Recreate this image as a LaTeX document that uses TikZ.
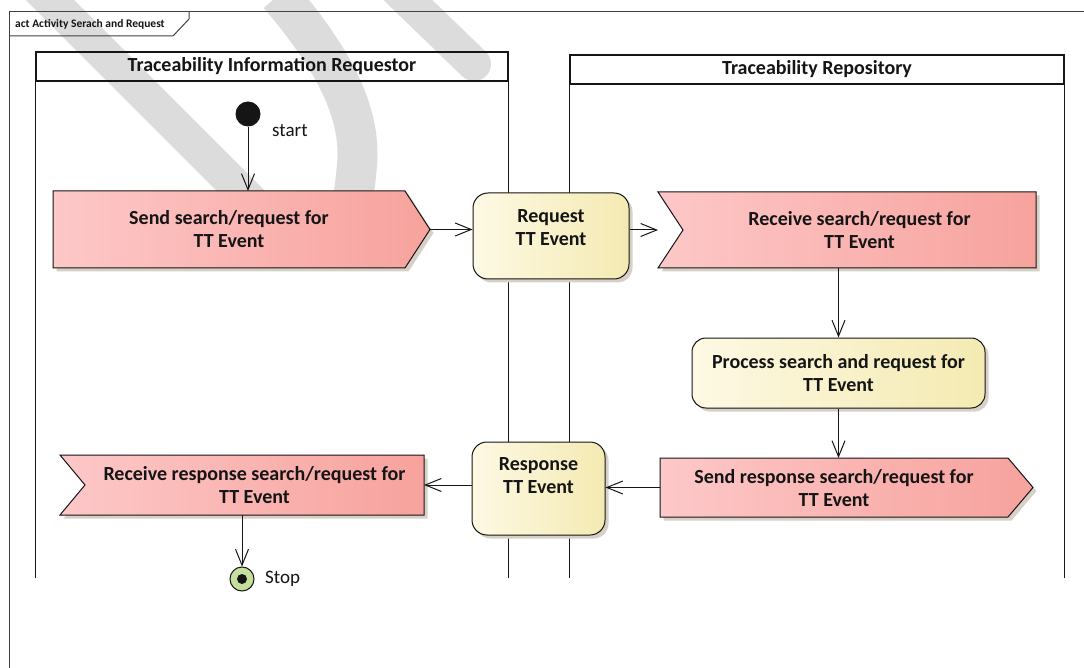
\documentclass[tikz,border=0pt]{standalone}
\usepackage{fontspec}
\setmainfont{Carlito}
\usetikzlibrary{arrows.meta,calc,shadows}

\definecolor{wm}{HTML}{DCDCDC}
\definecolor{pinkL}{HTML}{FDC8C8}
\definecolor{pinkR}{HTML}{F7A29D}
\definecolor{yelL}{HTML}{FDF9E4}
\definecolor{yelR}{HTML}{F4EAB2}
\definecolor{shadowcol}{HTML}{D6D0C7}
\definecolor{endgreen}{HTML}{C6DF9E}
\definecolor{ink}{HTML}{151515}
\definecolor{framecol}{HTML}{404040}

\tikzset{
  flow/.style={draw=ink, line width=1pt, -{Straight Barb[length=16pt,width=13pt]}},
  frameline/.style={draw=framecol, line width=1pt},
  lane/.style={draw=ink, line width=1.3pt},
  lanehead/.style={draw=ink, line width=1.3pt, rectangle, minimum height=29pt, inner sep=0pt,
    font=\bfseries\fontsize{20}{23}\selectfont, text=ink},
  area/.style={rectangle, inner sep=0pt, outer sep=0pt},
  sigbox/.style={draw=ink, line width=1pt, left color=pinkL, right color=pinkR},
  activity/.style={rectangle, rounded corners=15pt, draw=ink, line width=1pt, inner sep=0pt,
    left color=yelL, right color=yelR,
    drop shadow={opacity=1, fill=shadowcol, shadow xshift=3.5pt, shadow yshift=-3.5pt}},
  lbl/.style={font=\bfseries\fontsize{20}{23}\selectfont, align=center, text=ink, inner sep=0pt},
  plain/.style={font=\fontsize{19}{22}\selectfont, text=ink, inner sep=0pt, anchor=west}
}

% signal with a pointer on its right side: #1 node, #2 pointer depth
\newcommand\outsignal[2]{%
  \fill[shadowcol] ([shift={(3.5,3.5)}]#1.north west) -- ([shift={(3.5-#2,3.5)}]#1.north east)
    -- ([shift={(3.5,3.5)}]#1.east) -- ([shift={(3.5-#2,3.5)}]#1.south east)
    -- ([shift={(3.5,3.5)}]#1.south west) -- cycle;
  \draw[sigbox] (#1.north west) -- ([xshift=-#2pt]#1.north east) -- (#1.east)
    -- ([xshift=-#2pt]#1.south east) -- (#1.south west) -- cycle;
}
% signal with a notch in its left side: #1 node, #2 notch depth
\newcommand\insignal[2]{%
  \fill[shadowcol] ([shift={(3.5,3.5)}]#1.north west) -- ([shift={(3.5,3.5)}]#1.north east)
    -- ([shift={(3.5,3.5)}]#1.south east) -- ([shift={(3.5,3.5)}]#1.south west)
    -- ([shift={(3.5+#2,3.5)}]#1.west) -- cycle;
  \draw[sigbox] (#1.north west) -- (#1.north east) -- (#1.south east)
    -- (#1.south west) -- ([xshift=#2pt]#1.west) -- cycle;
}

\begin{document}
\begin{tikzpicture}[x=1pt,y=-1pt]
\useasboundingbox (0,0) rectangle (1084,668);
\clip (0,0) rectangle (1084,668);
\fill[white] (0,0) rectangle (1084,668);

% faint watermark strokes in the background
\begin{scope}[draw=wm]
  \draw[line width=34pt] (20,-30) -- (268,218);
  \draw[line width=40pt] (279,-5) .. controls (330,55) and (362,110) .. (357,165)
    .. controls (354,200) and (348,230) .. (340,250);
  \draw[line width=34pt, line cap=round] (380,-27) -- (474,64);
\end{scope}

% activity frame with its name tab
\draw[frameline] (9,700) -- (9,12) -- (1100,12);
\draw[frameline] (9,36) -- (173,36) -- (189,19) -- (189,12);
\node[font=\bfseries\fontsize{11.5}{13}\selectfont, anchor=west, inner sep=0pt, text=ink]
  (title) at (15,24) {act Activity Serach and Request};

% swimlanes
\coordinate (laneEnd) at (0,578);
\node[lanehead, minimum width=472pt] (laneA) at (272,66.5) {Traceability Information Requestor};
\draw[lane] (laneA.south west) -- (laneA.south west |- laneEnd);
\draw[lane] (laneA.south east) -- (laneA.south east |- laneEnd);
\node[lanehead, minimum width=494pt] (laneB) at (817,69.5) {Traceability Repository};
\draw[lane] (laneB.south west) -- (laneB.south west |- laneEnd);
\draw[lane] (laneB.south east) -- (laneB.south east |- laneEnd);

% signal boxes
\node[area, minimum width=377pt, minimum height=77pt] (send) at (241.5,229.5) {};
\outsignal{send}{25}
\node[lbl] (sendT) at ($(send.center)+(-12.5,0)$) {Send search/request for\\TT Event};

\node[area, minimum width=378pt, minimum height=76pt] (recv) at (847,230) {};
\insignal{recv}{25}
\node[lbl] (recvT) at ($(recv.center)+(12.5,0)$) {Receive search/request for\\TT Event};

\node[area, minimum width=373pt, minimum height=59pt] (sresp) at (846.5,487.5) {};
\outsignal{sresp}{25}
\node[lbl] (srespT) at ($(sresp.center)+(-12.5,0.5)$) {Send response search/request for\\TT Event};

\node[area, minimum width=364pt, minimum height=60pt] (rresp) at (242,485) {};
\insignal{rresp}{25}
\node[lbl] (rrespT) at ($(rresp.center)+(12.5,0.5)$) {Receive response search/request for\\TT Event};

% activities
\node[activity, minimum width=156pt, minimum height=86pt] (req) at (551,236) {};
\node[lbl] (reqT) at (551,227.5) {Request\\TT Event};
\node[activity, rounded corners=14pt, minimum width=293pt, minimum height=70pt] (proc) at (838.5,373) {};
\node[lbl] (procT) at (proc.center) {Process search and request for\\TT Event};
\node[activity, minimum width=133pt, minimum height=93pt] (resp) at (538.5,488.5) {};
\node[lbl] (respT) at (538.5,476) {Response\\TT Event};

% initial and final nodes
\node[circle, fill=ink, minimum size=25pt, inner sep=0pt] (start) at (248,114) {};
\node[plain] (startT) at (272,131) {start};
\node[circle, draw=ink, line width=1pt, fill=endgreen, minimum size=24pt, inner sep=0pt] (stop) at (242,579) {};
\node[circle, fill=ink, minimum size=10pt, inner sep=0pt] (stopDot) at (stop.center) {};
\node[plain] (stopT) at (265,579) {Stop};

% control flows
\draw[flow] (start.south) -- (start.south |- send.north);
\draw[flow] (send.east) -- (req.west |- send.east);
\draw[flow] (req.east |- recv.west) -- (recv.west);
\draw[flow] (proc.north |- recv.south) -- (proc.north);
\draw[flow] (proc.south) -- (proc.south |- sresp.north);
\draw[flow] (sresp.west) -- (resp.east |- sresp.west);
\draw[flow] (resp.west |- rresp.east) -- (rresp.east);
\draw[flow] (stop.north |- rresp.south) -- (stop.north);
\end{tikzpicture}
\end{document}
